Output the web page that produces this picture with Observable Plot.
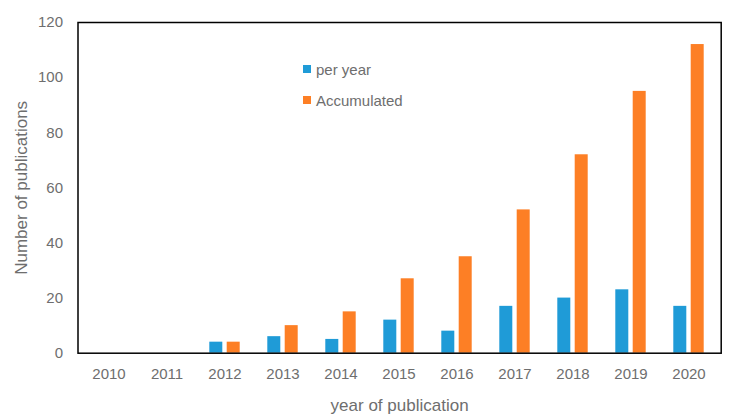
<!DOCTYPE html>
<html><head><meta charset="utf-8">
<script src="https://cdn.jsdelivr.net/npm/d3@7"></script>
<script src="https://cdn.jsdelivr.net/npm/@observablehq/plot@0.6"></script>
<style>
body{margin:0;background:#fff;}
#wrap{position:relative;width:736px;height:418px;font-family:"Liberation Sans",Arial,sans-serif;}
.legend{position:absolute;left:303px;top:58px;color:#6e6e6e;font-size:15px;}
.item{display:flex;align-items:center;height:22px;margin-bottom:9px;}
.sw{width:8px;height:8px;margin-right:5px;}
g[aria-label="y-axis label"] text, g[aria-label="x-axis label"] text{font-size:17px;}
</style></head><body><div id="wrap"></div>
<script>
const years = ["2010","2011","2012","2013","2014","2015","2016","2017","2018","2019","2020"];
const perYear = [0,0,4,6,5,12,8,17,20,23,17];
const accumulated = [0,0,4,10,15,27,35,52,72,95,112];
const seriesNames = ["per year","Accumulated"];
const seriesColors = ["#1f9bd7","#fd7f25"];
const yTicks = [0,20,40,60,80,100,120];

const data = years.map((y,i)=>({year:y, perYear:perYear[i], accumulated:accumulated[i]}));

const chart = Plot.plot({
  width:736, height:418,
  marginLeft:77.5, marginRight:15.3, marginTop:22, marginBottom:65.3,
  style:{fontFamily:'"Liberation Sans",Arial,sans-serif', fontSize:"15px", color:"#6e6e6e", background:"#fff"},
  x:{type:"band", domain:years, paddingInner:0.77, paddingOuter:0.385},
  y:{domain:[0,120]},
  marks:[
    Plot.barY(data,{x:"year", y:"perYear", fill:seriesColors[0], dx:-8.7}),
    Plot.barY(data,{x:"year", y:"accumulated", fill:seriesColors[1], dx:8.7}),
    Plot.axisY({ticks:yTicks, tickSize:0, tickPadding:15, label:"Number of publications", labelAnchor:"center", labelArrow:"none", labelOffset:63}),
    Plot.axisX({tickSize:0, tickPadding:15, label:"year of publication", labelAnchor:"center", labelArrow:"none", labelOffset:58}),
    Plot.frame({stroke:"#000", strokeWidth:1.5})
  ]
});
const wrap = document.getElementById("wrap");
wrap.appendChild(chart);
const legend = document.createElement("div");
legend.className = "legend";
seriesNames.forEach((n,i)=>{
  const it = document.createElement("div"); it.className="item";
  const sw = document.createElement("div"); sw.className="sw"; sw.style.background = seriesColors[i];
  const t = document.createElement("span"); t.textContent = n;
  it.appendChild(sw); it.appendChild(t); legend.appendChild(it);
});
wrap.appendChild(legend);
</script></body></html>
